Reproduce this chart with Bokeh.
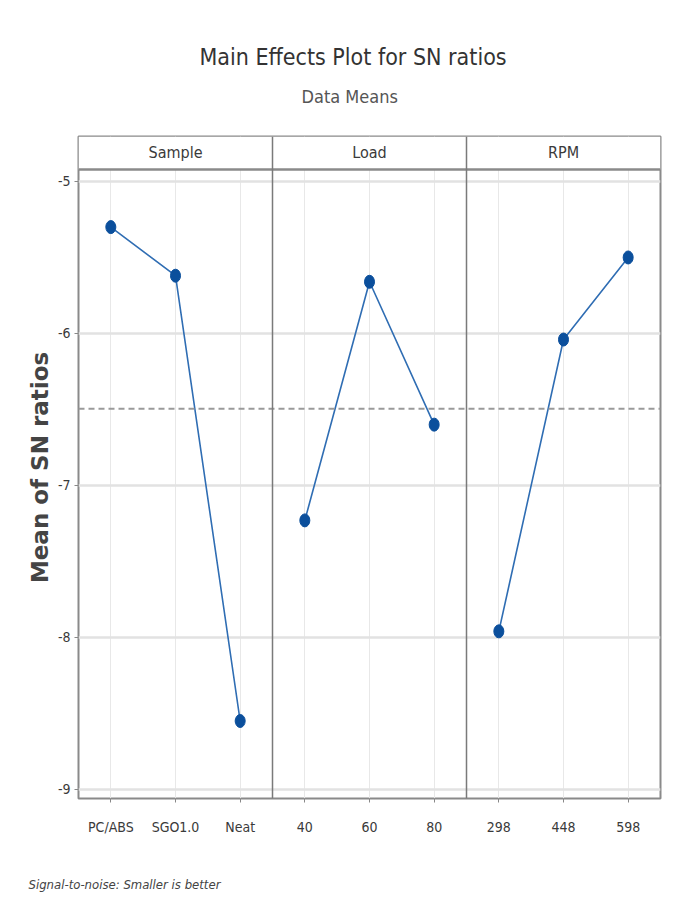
from bokeh.plotting import figure
from bokeh.models import BoxAnnotation, Span, Label, Title, FixedTicker, Range1d
from bokeh.embed import file_html
from bokeh.resources import INLINE

# ---- text ----
title_text = "Main Effects Plot for SN ratios"
subtitle_text = "Data Means"
y_label = "Mean of SN ratios"
footnote_text = "Signal-to-noise: Smaller is better"

# ---- data ----
factors = ["Sample", "Load", "RPM"]
sample_levels = ["PC/ABS", "SGO1.0", "Neat"]
sample_sn = [-5.30, -5.62, -8.55]
load_levels = ["40", "60", "80"]
load_sn = [-7.23, -5.66, -6.60]
rpm_levels = ["298", "448", "598"]
rpm_sn = [-7.96, -6.04, -5.50]
y_ticks = [-5, -6, -7, -8, -9]
y_tick_labels = ["-5", "-6", "-7", "-8", "-9"]

panels = [(sample_levels, sample_sn), (load_levels, load_sn), (rpm_levels, rpm_sn)]
all_vals = sample_sn + load_sn + rpm_sn
grand_mean = sum(all_vals) / len(all_vals)

NARROW = "'Liberation Sans Narrow', 'DejaVu Sans Condensed', 'Liberation Sans', sans-serif"
TXT = "#3a3a3a"

n_total = sum(len(lv) for lv, _ in panels)
y_lo, y_hi = -9.06, -4.704
strip_bottom = -4.921

p = figure(width=679, height=906, output_backend="svg", toolbar_location=None,
           x_range=Range1d(0.5, n_total + 0.5), y_range=Range1d(y_lo, y_hi),
           min_border_left=78, min_border_right=19, min_border_top=136,
           min_border_bottom=108, background_fill_color="white",
           border_fill_color="white")

p.outline_line_color = "#8a8a8a"
p.outline_line_width = 2

# positions and labels
tick_pos = []
overrides = {}
offset = 0
for lv, vals in panels:
    xs = [offset + i + 1 for i in range(len(lv))]
    for x, name in zip(xs, lv):
        tick_pos.append(x)
        overrides[x] = name
    offset += len(lv)

p.xaxis.ticker = FixedTicker(ticks=tick_pos)
p.xaxis.major_label_overrides = overrides
p.xgrid.ticker = FixedTicker(ticks=tick_pos)
p.yaxis.ticker = FixedTicker(ticks=y_ticks)
p.yaxis.major_label_overrides = dict(zip(y_ticks, y_tick_labels))
p.ygrid.ticker = FixedTicker(ticks=y_ticks)

p.xgrid.grid_line_color = "#e8e8e8"
p.xgrid.grid_line_width = 1
p.ygrid.grid_line_color = "#e2e2e2"
p.ygrid.grid_line_width = 2.5

for ax in (p.xaxis, p.yaxis):
    ax.axis_line_color = None
    ax.major_tick_line_color = "#888888"
    ax.major_tick_out = 4
    ax.major_tick_in = 0
    ax.minor_tick_line_color = None
    ax.major_label_text_font = NARROW
    ax.major_label_text_font_size = "14px"
    ax.major_label_text_color = TXT

p.xaxis.major_label_standoff = 16
p.yaxis.major_label_standoff = 4
p.yaxis.axis_label = y_label
p.yaxis.axis_label_text_font = "DejaVu Sans"
p.yaxis.axis_label_text_font_style = "bold"
p.yaxis.axis_label_text_font_size = "23px"
p.yaxis.axis_label_text_color = "#444444"
p.yaxis.axis_label_standoff = 2

# faint page frame
p.add_layout(BoxAnnotation(left=11, right=690, top=5, bottom=904,
                           left_units="canvas", right_units="canvas",
                           top_units="canvas", bottom_units="canvas",
                           fill_alpha=0, line_color="#e0e0e0", line_width=2,
                           level="underlay"))

# reference (grand mean) line
p.add_layout(Span(location=grand_mean, dimension="width", line_color="#9a9a9a",
                  line_width=2, line_dash="6 4"))

# data
for k, (lv, vals) in enumerate(panels):
    xs = [k * len(lv) + i + 1 for i in range(len(lv))]
    p.line(xs, vals, line_color="#2f6db3", line_width=1.6)
    p.ellipse(xs, vals, width=10, height=13, width_units="screen",
              height_units="screen", fill_color="#0b4f9c", line_color="#0b4f9c")

# header strip
p.add_layout(BoxAnnotation(bottom=strip_bottom, fill_color="white", fill_alpha=1,
                           line_color=None))
p.add_layout(Span(location=strip_bottom, dimension="width", line_color="#8a8a8a",
                  line_width=2.5))
offset = 0
for k, (lv, _) in enumerate(panels):
    if k > 0:
        p.add_layout(Span(location=offset + 0.5, dimension="height",
                          line_color="#7a7a7a", line_width=1.5))
    p.add_layout(Label(x=offset + (len(lv) + 1) / 2, y=(strip_bottom + y_hi) / 2,
                       text=factors[k], text_align="center", text_baseline="middle",
                       text_font=NARROW, text_font_size="16px",
                       text_color=TXT))
    offset += len(lv)

# titles
p.add_layout(Title(text=subtitle_text + "\n", align="left", text_font=NARROW,
                   text_font_size="18px", text_font_style="normal",
                   text_color="#555555", standoff=18, offset=223), "above")
p.add_layout(Title(text=title_text, align="left", text_font=NARROW,
                   text_font_size="23px", text_font_style="normal",
                   text_color="#333333", standoff=9, offset=121), "above")
p.add_layout(Title(text="\n\n" + footnote_text, align="left", text_font=NARROW,
                   text_font_size="13px", text_font_style="italic",
                   text_color="#444444", standoff=14, offset=-50), "below")

open("out.html", "w").write(file_html(p, INLINE))
